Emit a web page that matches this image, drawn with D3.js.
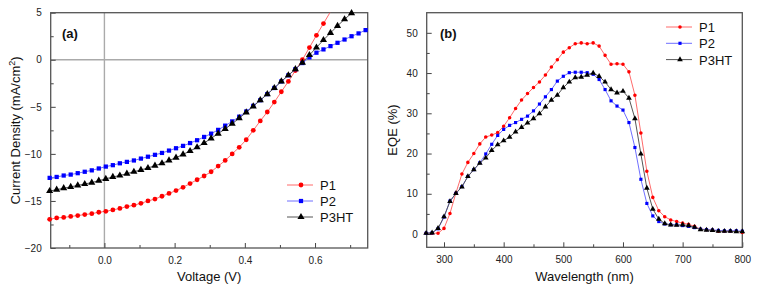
<!DOCTYPE html>
<html>
<head>
<meta charset="utf-8">
<script src="https://cdn.jsdelivr.net/npm/d3@7"></script>
<style>
  body { margin: 0; background: #fff; }
  svg { display: block; font-family: "Liberation Sans", Arial, sans-serif; }
</style>
</head>
<body>
<svg id="canvas" width="760" height="287"></svg>
<script>

// (a) J-V curves
const voltage = [-0.156, -0.136, -0.116, -0.096, -0.076, -0.056, -0.036, -0.016, 0.004, 0.024,
                 0.044, 0.064, 0.084, 0.104, 0.124, 0.144, 0.164, 0.184, 0.204, 0.224,
                 0.244, 0.264, 0.284, 0.304, 0.324, 0.344, 0.364, 0.384, 0.404, 0.424,
                 0.444, 0.464, 0.484, 0.504, 0.524, 0.544, 0.564, 0.584, 0.604, 0.624,
                 0.644, 0.664, 0.684, 0.704, 0.724, 0.744];
const jP1 = [-16.95, -16.8, -16.75, -16.65, -16.55, -16.45, -16.35, -16.2, -16.1, -15.95,
             -15.8, -15.6, -15.45, -15.25, -15.0, -14.8, -14.5, -14.2, -13.9, -13.55,
             -13.15, -12.75, -12.35, -11.9, -11.3, -10.7, -10.0, -9.3, -8.5, -7.5,
             -6.5, -5.55, -4.5, -3.4, -2.3, -1.15, 0.0, 1.3, 2.6, 3.85,
             5.1];
const jP2 = [-12.55, -12.45, -12.3, -12.2, -12.05, -11.9, -11.75, -11.55, -11.35, -11.2,
             -11.0, -10.85, -10.7, -10.5, -10.3, -10.1, -9.9, -9.65, -9.4, -9.15,
             -8.85, -8.55, -8.2, -7.85, -7.45, -7.0, -6.55, -6.05, -5.5, -4.9,
             -4.3, -3.65, -3.0, -2.3, -1.65, -1.0, -0.35, 0.25, 0.75, 1.1,
             1.45, 1.8, 2.15, 2.5, 2.8, 3.15];
const jP3HT = [-13.95, -13.8, -13.65, -13.5, -13.35, -13.2, -13.05, -12.85, -12.65, -12.45,
               -12.3, -12.1, -11.9, -11.7, -11.5, -11.25, -11.0, -10.7, -10.4, -10.05,
               -9.7, -9.3, -8.85, -8.35, -7.85, -7.35, -6.8, -6.2, -5.6, -4.95,
               -4.3, -3.65, -3.0, -2.3, -1.65, -1.0, -0.3, 0.5, 1.3, 2.1,
               2.85, 3.6, 4.3, 4.95];

// (b) EQE spectra
const wavelength = [270, 280, 290, 300, 310, 320, 330, 340, 350, 360,
                    370, 380, 390, 400, 410, 420, 430, 440, 450, 460,
                    470, 480, 490, 500, 510, 520, 530, 540, 550, 560,
                    570, 580, 590, 600, 610, 620, 630, 640, 650, 660,
                    670, 680, 690, 700, 710, 720, 730, 740, 750, 760,
                    770, 780, 790, 800];
const eqeP1 = [0.2, 0.2, 0.2, 1.4, 5.1, 10.2, 14.9, 17.8, 20.0, 22.4,
               24.1, 24.6, 25.2, 26.8, 28.9, 31.2, 33.3, 34.9, 36.4, 37.8,
               39.5, 41.5, 43.3, 45.2, 46.3, 47.3, 47.5, 47.3, 47.5, 46.7,
               44.4, 42.2, 42.3, 42.2, 40.3, 34.5, 25.1, 15.6, 9.1, 5.8,
               4.3, 3.5, 3.1, 2.7, 2.4, 1.9, 1.2, 1.1, 1.0, 0.7,
               0.7, 0.7, 0.7, 0.4];
const eqeP2 = [0.2, 0.3, 1.3, 4.2, 8.2, 10.1, 11.8, 14.3, 16.0, 17.7,
               19.9, 22.3, 24.5, 26.0, 27.0, 27.7, 28.5, 29.3, 30.6, 32.3,
               34.1, 35.9, 38.0, 39.2, 40.1, 40.2, 40.2, 40.1, 39.7, 38.4,
               35.9, 33.1, 31.8, 30.8, 27.7, 21.5, 13.6, 7.6, 4.5, 3.1,
               2.5, 2.3, 2.3, 2.1, 1.9, 1.6, 1.2, 1.1, 1.0, 0.9,
               0.8, 0.8, 0.8, 0.7];
const eqeP3HT = [0.2, 0.3, 1.4, 4.3, 8.1, 10.1, 11.7, 14.3, 16.0, 17.6,
                 18.9, 20.8, 22.2, 23.2, 24.1, 25.4, 26.5, 27.6, 28.7, 29.9,
                 31.6, 33.3, 34.5, 36.4, 37.8, 38.9, 39.0, 39.5, 40.0, 39.2,
                 37.8, 35.9, 35.1, 35.5, 33.8, 28.7, 19.9, 11.4, 6.2, 3.7,
                 2.6, 2.3, 2.2, 2.3, 2.1, 1.7, 1.1, 1.0, 0.9, 0.7,
                 0.7, 0.7, 0.6, 0.6];

const seriesNames = ["P1", "P2", "P3HT"];
const markerColors = ["#ff0000", "#0000ff", "#000000"];
const lineColors = ["#ff6b6b", "#6f6fff", "#555555"];
const markerTypes = [d3.symbolCircle, d3.symbolSquare, d3.symbolTriangle];

const svg = d3.select("#canvas");

/** Draw one framed panel with inward ticks, series, legend and labels */
function drawPanel(p) {

    const x = d3.scaleLinear().domain(p.xDomain).range([p.left, p.right]);
    const y = d3.scaleLinear().domain(p.yDomain).range([p.bottom, p.top]);
    const g = svg.append("g");

    // Clip region for curves
    g.append("clipPath").attr("id", p.id + "-clip")
        .append("rect")
        .attr("x", p.left).attr("y", p.top)
        .attr("width", p.right - p.left).attr("height", p.bottom - p.top);

    // Zero lines
    if (p.zeroLines) {
        g.append("line")
            .attr("x1", x(0)).attr("x2", x(0)).attr("y1", p.top).attr("y2", p.bottom)
            .attr("stroke", "#aaaaaa").attr("stroke-width", 1.4);
        g.append("line")
            .attr("x1", p.left).attr("x2", p.right).attr("y1", y(0)).attr("y2", y(0))
            .attr("stroke", "#aaaaaa").attr("stroke-width", 1.4);
    }

    // Axes with ticks pointing inward
    const xAxis = g.append("g").attr("transform", `translate(0,${p.bottom})`)
        .call(d3.axisBottom(x).tickValues(p.xMajor).tickSize(-5).tickPadding(9).tickFormat(p.xFormat));
    const xMinor = g.append("g").attr("transform", `translate(0,${p.bottom})`)
        .call(d3.axisBottom(x).tickValues(p.xMinor).tickSize(-3).tickFormat(""));
    const yAxis = g.append("g").attr("transform", `translate(${p.left},0)`)
        .call(d3.axisLeft(y).tickValues(p.yMajor).tickSize(-5).tickPadding(9).tickFormat(d3.format("d")));
    const yMinor = g.append("g").attr("transform", `translate(${p.left},0)`)
        .call(d3.axisLeft(y).tickValues(p.yMinor).tickSize(-3).tickFormat(""));

    [xAxis, xMinor, yAxis, yMinor].forEach(a => {
        a.select(".domain").remove();
        a.selectAll("line").attr("stroke", "#444");
        a.selectAll("text").attr("font-size", 10).attr("fill", "#222")
            .attr("font-family", "'Liberation Sans', Arial, sans-serif");
    });

    // Frame
    g.append("rect")
        .attr("x", p.left).attr("y", p.top)
        .attr("width", p.right - p.left).attr("height", p.bottom - p.top)
        .attr("fill", "none").attr("stroke", "#555").attr("stroke-width", 1.3);

    // Series
    const line = d3.line().x(d => x(d[0])).y(d => y(d[1]));
    p.series.forEach((vals, i) => {
        const pts = vals.map((v, k) => [p.xs[k], v]);
        g.append("path")
            .datum(pts)
            .attr("clip-path", `url(#${p.id}-clip)`)
            .attr("d", line)
            .attr("fill", "none")
            .attr("stroke", lineColors[i])
            .attr("stroke-width", 1);
        g.selectAll(null)
            .data(pts.filter(d => d[1] <= p.yDomain[1]))
            .enter()
            .append("path")
            .attr("transform", d => `translate(${x(d[0])},${y(d[1])})`)
            .attr("d", d3.symbol().type(markerTypes[i]).size(p.markerSize[i]))
            .attr("fill", markerColors[i]);
    });

    // Legend
    seriesNames.forEach((name, i) => {
        const ly = p.legendY + i * p.legendGap;
        g.append("line")
            .attr("x1", p.legendX).attr("x2", p.legendX + 26)
            .attr("y1", ly).attr("y2", ly)
            .attr("stroke", lineColors[i]).attr("stroke-width", 1);
        g.append("path")
            .attr("transform", `translate(${p.legendX + 14},${ly})`)
            .attr("d", d3.symbol().type(markerTypes[i]).size(p.markerSize[i]))
            .attr("fill", markerColors[i]);
        g.append("text")
            .attr("x", p.legendX + 33).attr("y", ly + 5)
            .attr("font-size", 13).attr("fill", "#111")
            .text(name);
    });

    // Panel tag
    g.append("text")
        .attr("x", p.tagX).attr("y", p.top + 25)
        .attr("font-size", 13).attr("font-weight", "bold").attr("fill", "#111")
        .text(p.tag);

    // Axis titles
    g.append("text")
        .attr("x", (p.left + p.right) / 2).attr("y", 281)
        .attr("text-anchor", "middle").attr("font-size", 13).attr("fill", "#111")
        .text(p.xTitle);
    const yt = g.append("text")
        .attr("transform", `translate(${p.yTitleX},${(p.top + p.bottom) / 2}) rotate(-90)`)
        .attr("text-anchor", "middle").attr("font-size", 13).attr("fill", "#111");
    p.yTitle(yt);
}

drawPanel({
    id: "jv", tag: "(a)", tagX: 62,
    left: 50.7, right: 367.7, top: 12.7, bottom: 248,
    xDomain: [-0.153, 0.75], yDomain: [-20, 5],
    xMajor: [0, 0.2, 0.4, 0.6], xMinor: [-0.1, 0.1, 0.3, 0.5, 0.7],
    yMajor: [-20, -15, -10, -5, 0, 5], yMinor: [-17.5, -12.5, -7.5, -2.5, 2.5],
    xFormat: d3.format(".1f"),
    xs: voltage, series: [jP1, jP2, jP3HT],
    markerSize: [18, 18, 22],
    zeroLines: true,
    legendX: 287, legendY: 185, legendGap: 16,
    xTitle: "Voltage (V)", yTitleX: 20,
    yTitle: t => {
        t.append("tspan").text("Current Density (mA/cm");
        t.append("tspan").attr("font-size", 9).attr("dy", -5).text("2");
        t.append("tspan").attr("dy", 5).text(")");
    }
});

drawPanel({
    id: "eqe", tag: "(b)", tagX: 440,
    left: 426.7, right: 742.3, top: 12.7, bottom: 247.3,
    xDomain: [271, 800], yDomain: [-3.3, 55],
    xMajor: [300, 400, 500, 600, 700, 800], xMinor: [350, 450, 550, 650, 750],
    yMajor: [0, 10, 20, 30, 40, 50], yMinor: [5, 15, 25, 35, 45],
    xFormat: d3.format("d"),
    xs: wavelength, series: [eqeP1, eqeP2, eqeP3HT],
    markerSize: [10, 10, 14],
    zeroLines: false,
    legendX: 666, legendY: 27, legendGap: 16.3,
    xTitle: "Wavelength (nm)", yTitleX: 397,
    yTitle: t => t.text("EQE (%)")
});

</script>
</body>
</html>
